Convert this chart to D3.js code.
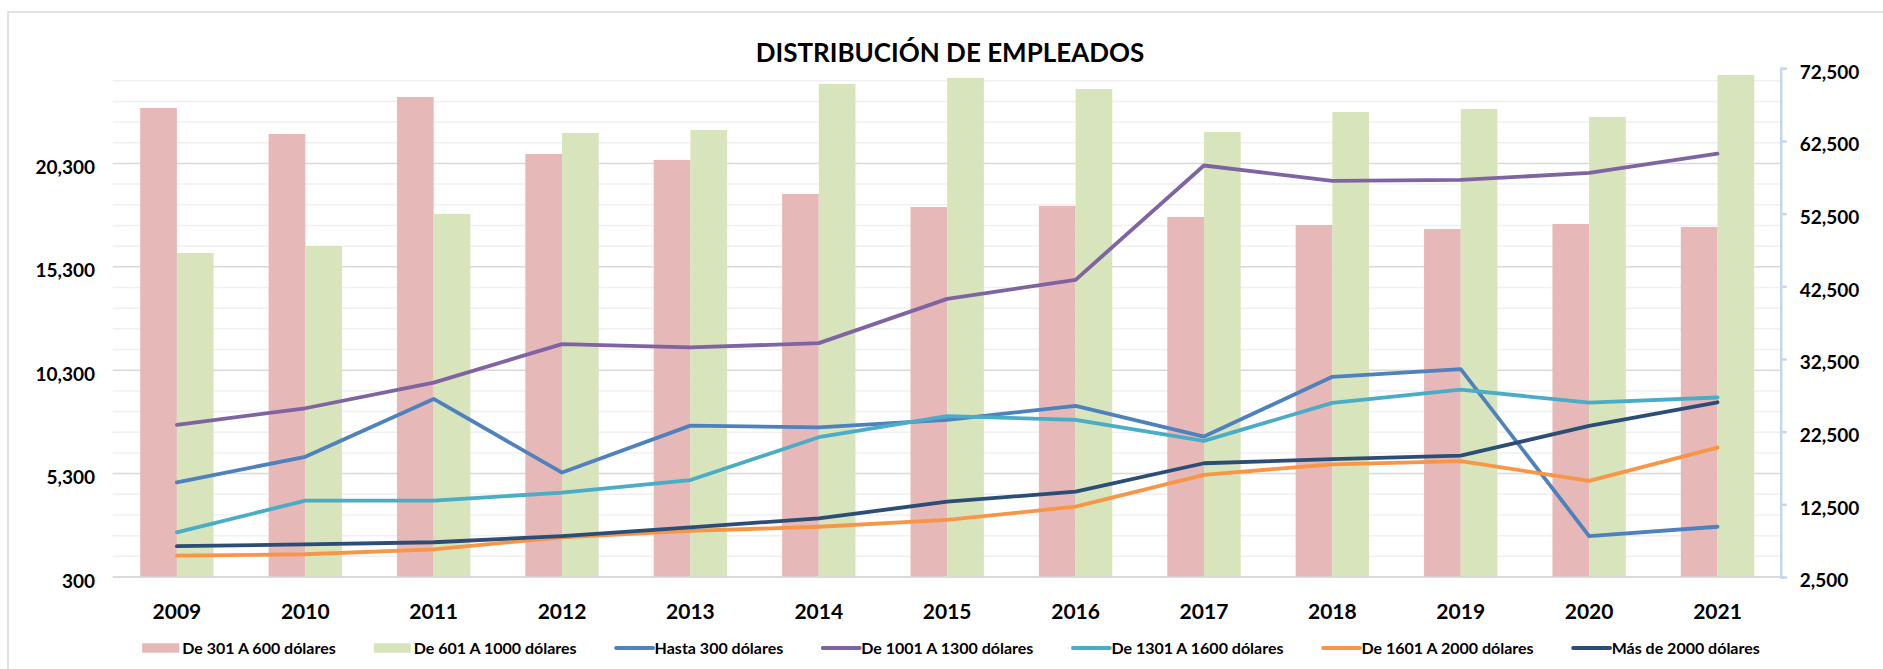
<!DOCTYPE html>
<html>
<head>
<meta charset="utf-8">
<script src="https://cdn.jsdelivr.net/npm/d3@7"></script>
<style>
  html, body { margin: 0; padding: 0; background: #fff; }
  svg { display: block; font-family: Lato, "Open Sans", sans-serif; }
</style>
</head>
<body>
<svg id="chart" width="1883" height="669"></svg>
<script>
// data
const years = ["2009", "2010", "2011", "2012", "2013", "2014", "2015", "2016", "2017", "2018", "2019", "2020", "2021"];

// bars (right axis)
const de301a600 = [67040, 63460, 68550, 60710, 59890, 55210, 53420, 53560, 52040, 50940, 50390, 51080, 50670];
const de601a1000 = [47090, 48050, 52450, 63600, 64010, 70340, 71170, 69660, 63740, 66490, 66900, 65800, 71580];

// lines (left axis)
const hasta300 = [4880, 6110, 8910, 5350, 7620, 7540, 7900, 8580, 7090, 9980, 10350, 2280, 2730];
const de1001a1300 = [7660, 8460, 9700, 11560, 11400, 11610, 13750, 14670, 20200, 19460, 19500, 19840, 20770];
const de1301a1600 = [2460, 3990, 3990, 4380, 4990, 7060, 8080, 7900, 6880, 8720, 9360, 8730, 8980];
const de1601a2000 = [1330, 1400, 1640, 2220, 2530, 2730, 3060, 3700, 5240, 5750, 5900, 4950, 6560];
const mas2000 = [1790, 1880, 1980, 2280, 2700, 3140, 3940, 4430, 5800, 6000, 6170, 7610, 8750];

const leftTicks = [300, 5300, 10300, 15300, 20300];
const rightTicks = [2500, 12500, 22500, 32500, 42500, 52500, 62500, 72500];

const barSeries = [
    {name: "De 301 A 600 dólares", values: de301a600, color: "#e6b8b7"},
    {name: "De 601 A 1000 dólares", values: de601a1000, color: "#d8e4bc"}
];
const lineSeries = [
    {name: "Hasta 300 dólares", values: hasta300, color: "#4f81bd"},
    {name: "De 1001 A 1300 dólares", values: de1001a1300, color: "#8064a2"},
    {name: "De 1301 A 1600 dólares", values: de1301a1600, color: "#4bacc6"},
    {name: "De 1601 A 2000 dólares", values: de1601a2000, color: "#f79646"},
    {name: "Más de 2000 dólares", values: mas2000, color: "#2c4d75"}
];

const plot = {left: 112.7, right: 1781.7, top: 68.3, bottom: 577};

const svg = d3.select("#chart");

// chart border
svg.append("rect")
    .attr("x", 8).attr("y", 12)
    .attr("width", 1900).attr("height", 700)
    .attr("fill", "none")
    .attr("stroke", "#d9d9d9")
    .attr("stroke-width", 1.5);

const x = d3.scaleBand().domain(years).range([plot.left, plot.right]);
const bw = x.bandwidth();
const xSub = d3.scaleBand().domain([0, 1]).range([bw * 0.75 / 3.5, bw * 2.75 / 3.5]);

const yLeft = d3.scaleLinear().domain([300, 24900]).range([plot.bottom, plot.top]);
const yRight = d3.scaleLinear().domain([2500, 72500]).range([plot.bottom, plot.top]);

// gridlines: minor every 1000, major every 5000
const minor = d3.range(300, 24900, 1000);
svg.append("g")
    .selectAll("line")
    .data(minor)
    .enter()
    .append("line")
    .attr("x1", plot.left).attr("x2", plot.right)
    .attr("y1", d => yLeft(d)).attr("y2", d => yLeft(d))
    .attr("stroke", d => (d - 300) % 5000 === 0 ? "#d9d9d9" : "#f0f0f0")
    .attr("stroke-width", 1.5);

// bars
barSeries.forEach((s, i) => {
    svg.append("g")
        .selectAll("rect")
        .data(s.values)
        .enter()
        .append("rect")
        .attr("x", (d, j) => x(years[j]) + xSub(i))
        .attr("width", xSub.bandwidth())
        .attr("y", d => yRight(d))
        .attr("height", d => plot.bottom - yRight(d))
        .attr("fill", s.color);
});

// baseline
svg.append("line")
    .attr("x1", plot.left).attr("x2", plot.right)
    .attr("y1", plot.bottom).attr("y2", plot.bottom)
    .attr("stroke", "#d9d9d9")
    .attr("stroke-width", 1.5);

// lines
const line = d3.line()
    .x((d, j) => x(years[j]) + bw / 2)
    .y(d => yLeft(d));

lineSeries.forEach(s => {
    svg.append("path")
        .datum(s.values)
        .attr("d", line)
        .attr("fill", "none")
        .attr("stroke", s.color)
        .attr("stroke-width", 3.8)
        .attr("stroke-linejoin", "round")
        .attr("stroke-linecap", "round");
});

// left axis labels
svg.append("g")
    .selectAll("text")
    .data(leftTicks)
    .enter()
    .append("text")
    .attr("x", 95)
    .attr("y", d => yLeft(d) + 10.5)
    .attr("text-anchor", "end")
    .attr("font-size", "19px")
    .attr("font-weight", "bold")
    .text(d => d3.format(",")(d));

// right axis
const rightAxis = d3.axisRight(yRight).tickValues(rightTicks).tickSize(6).tickFormat(d3.format(","));
const ra = svg.append("g")
    .attr("transform", "translate(" + (plot.right - 1) + ",0)")
    .call(rightAxis);
ra.select(".domain").attr("stroke", "#c8d6ea").attr("stroke-width", 2.5);
ra.selectAll(".tick line").attr("stroke", "#c8d6ea").attr("stroke-width", 2.5);
ra.selectAll(".tick text")
    .attr("x", 19)
    .attr("dy", "0.52em")
    .attr("fill", "#000")
    .attr("font-size", "19px")
    .attr("font-weight", "bold")
    .attr("font-family", "Lato, sans-serif");

// x labels
svg.append("g")
    .selectAll("text")
    .data(years)
    .enter()
    .append("text")
    .attr("x", d => x(d) + bw / 2)
    .attr("y", 618.5)
    .attr("text-anchor", "middle")
    .attr("font-size", "21px")
    .attr("font-weight", "bold")
    .text(d => d);

// title
svg.append("text")
    .attr("x", 950)
    .attr("y", 62)
    .attr("text-anchor", "middle")
    .attr("font-size", "26px")
    .attr("font-weight", "bold")
    .text("DISTRIBUCIÓN DE EMPLEADOS");

// legend
const legendItems = barSeries.map(s => ({name: s.name, color: s.color, type: "bar"}))
    .concat(lineSeries.map(s => ({name: s.name, color: s.color, type: "line"})));

const legend = svg.append("g").attr("class", "legend");
let cursor = 0;
legendItems.forEach(item => {
    const g = legend.append("g").attr("transform", "translate(" + cursor + ",0)");
    if (item.type === "bar") {
        g.append("rect")
            .attr("x", 0).attr("y", -4.7)
            .attr("width", 37).attr("height", 9.4)
            .attr("fill", item.color);
    } else {
        g.append("line")
            .attr("x1", 1.5).attr("x2", 38.5)
            .attr("y1", 0).attr("y2", 0)
            .attr("stroke", item.color)
            .attr("stroke-width", 3.8)
            .attr("stroke-linecap", "round");
    }
    const t = g.append("text")
        .attr("x", 40)
        .attr("y", 6)
        .attr("font-size", "16px")
        .attr("font-weight", "bold")
        .text(item.name);
    cursor += 40 + t.node().getComputedTextLength() + 38;
});
const legendWidth = cursor - 38;
legend.attr("transform", "translate(" + (951 - legendWidth / 2) + ",648)");
</script>
</body>
</html>
